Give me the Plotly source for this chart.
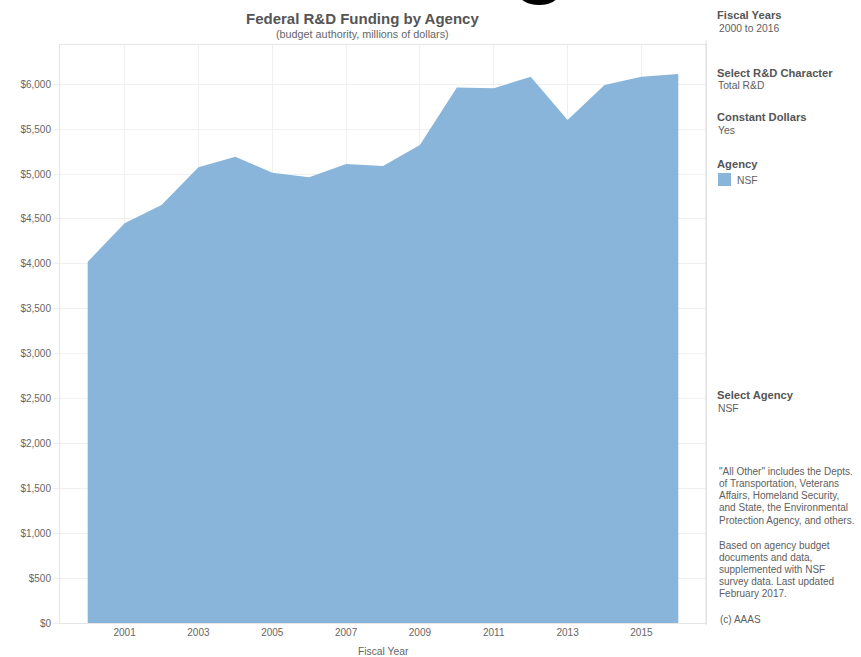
import plotly.graph_objects as go

years = list(range(2000, 2017))
nsf_funding = [4023, 4451, 4655, 5075, 5193, 5014, 4963, 5111, 5089, 5323,
               5965, 5954, 6084, 5601, 5991, 6084, 6114]
x_tick_years = [2001, 2003, 2005, 2007, 2009, 2011, 2013, 2015]
y_ticks = [0, 500, 1000, 1500, 2000, 2500, 3000, 3500, 4000, 4500, 5000, 5500, 6000]
y_tick_labels = ["$" + f"{v:,}" for v in y_ticks]

W, H = 861, 657
L, R, T, B = 60, 706, 45, 623
FONT = "Liberation Sans, Arial, sans-serif"
FILL = "#8ab5da"
HEAD = "#555555"
BODY = "#606060"


def px(x):
    return (x - L) / (R - L)


def py(y):
    return (B - y) / (B - T)


fig = go.Figure()
fig.add_trace(go.Scatter(
    x=years, y=nsf_funding, mode="lines", fill="tozeroy",
    fillcolor=FILL, line=dict(width=0, color=FILL), hoverinfo="x+y",
    showlegend=False,
))

ann = []


def text(x, y, s, size=10.3, color=BODY, bold=False, xanchor="left"):
    if bold:
        s = "<b>" + s + "</b>"
    ann.append(dict(x=px(x), y=py(y), xref="paper", yref="paper", text=s,
                    showarrow=False, xanchor=xanchor, yanchor="middle",
                    font=dict(family=FONT, size=size, color=color)))


# title
text(362, 18, "Federal R&D Funding by Agency", size=15, color=HEAD, bold=True, xanchor="center")
text(362, 34, "(budget authority, millions of dollars)", size=10.8, color="#666666", xanchor="center")
# axis title
text(383, 651, "Fiscal Year", size=10.3, color="#666666", xanchor="center")

# right panel
text(715, 15, "Fiscal Years", size=11.2, color=HEAD, bold=True)
text(717, 28, "2000 to 2016")
text(715, 73, "Select R&D Character", size=11.2, color=HEAD, bold=True)
text(716, 86, "Total R&D")
text(715, 117, "Constant Dollars", size=11.2, color=HEAD, bold=True)
text(716, 130, "Yes")
text(715, 164, "Agency", size=11.2, color=HEAD, bold=True)
text(735, 180, "NSF")
text(715, 395, "Select Agency", size=11.2, color=HEAD, bold=True)
text(716, 408, "NSF")

note1 = ["\"All Other\" includes the Depts.", "of Transportation, Veterans",
         "Affairs, Homeland Security,", "and State, the Environmental",
         "Protection Agency, and others."]
note2 = ["Based on agency budget", "documents and data,", "supplemented with NSF",
         "survey data. Last updated", "February 2017."]
for i, s in enumerate(note1):
    text(717, 471 + i * 12.3, s, size=10)
for i, s in enumerate(note2):
    text(717, 545 + i * 12.2, s, size=10)
text(718, 619, "(c) AAAS", size=10)

# stray descender glyph at top of reference
ann.append(dict(x=px(540), y=py(7), xref="paper", yref="paper", text="<b>g</b>",
                showarrow=False, xanchor="center", yanchor="bottom",
                font=dict(family=FONT, size=92, color="#000000")))

shapes = [
    dict(type="rect", xref="paper", yref="paper", x0=px(718), x1=px(731),
         y0=py(186), y1=py(173), fillcolor=FILL, line=dict(width=0)),
    dict(type="line", xref="paper", yref="paper", x0=px(706), x1=px(706),
         y0=py(40), y1=py(625), line=dict(color="#dddddd", width=1)),
]

fig.update_layout(
    width=W, height=H,
    margin=dict(l=L, r=W - R, t=T, b=H - B, autoexpand=False),
    paper_bgcolor="white", plot_bgcolor="white",
    font=dict(family=FONT, size=10, color="#666666"),
    annotations=ann, shapes=shapes, showlegend=False,
    xaxis=dict(range=[1999.25, 2016.75], tickvals=x_tick_years,
               showgrid=True, gridcolor="#f0f0f0", gridwidth=1,
               showline=True, mirror=True, linecolor="#e6e6e6",
               ticks="", zeroline=False, tickfont=dict(size=10, color="#666666"),
               fixedrange=True),
    yaxis=dict(range=[0, 6437], tickvals=y_ticks, ticktext=y_tick_labels,
               showgrid=True, gridcolor="#f0f0f0", gridwidth=1,
               showline=True, mirror=True, linecolor="#e6e6e6",
               ticks="outside", ticklen=6, tickcolor="#eeeeee",
               zeroline=False, tickfont=dict(size=10, color="#666666"),
               fixedrange=True),
)

fig.write_html(
    "out.html",
    config={"displayModeBar": False},
    post_script="document.body.style.margin='0';document.body.style.overflow='hidden';",
)
